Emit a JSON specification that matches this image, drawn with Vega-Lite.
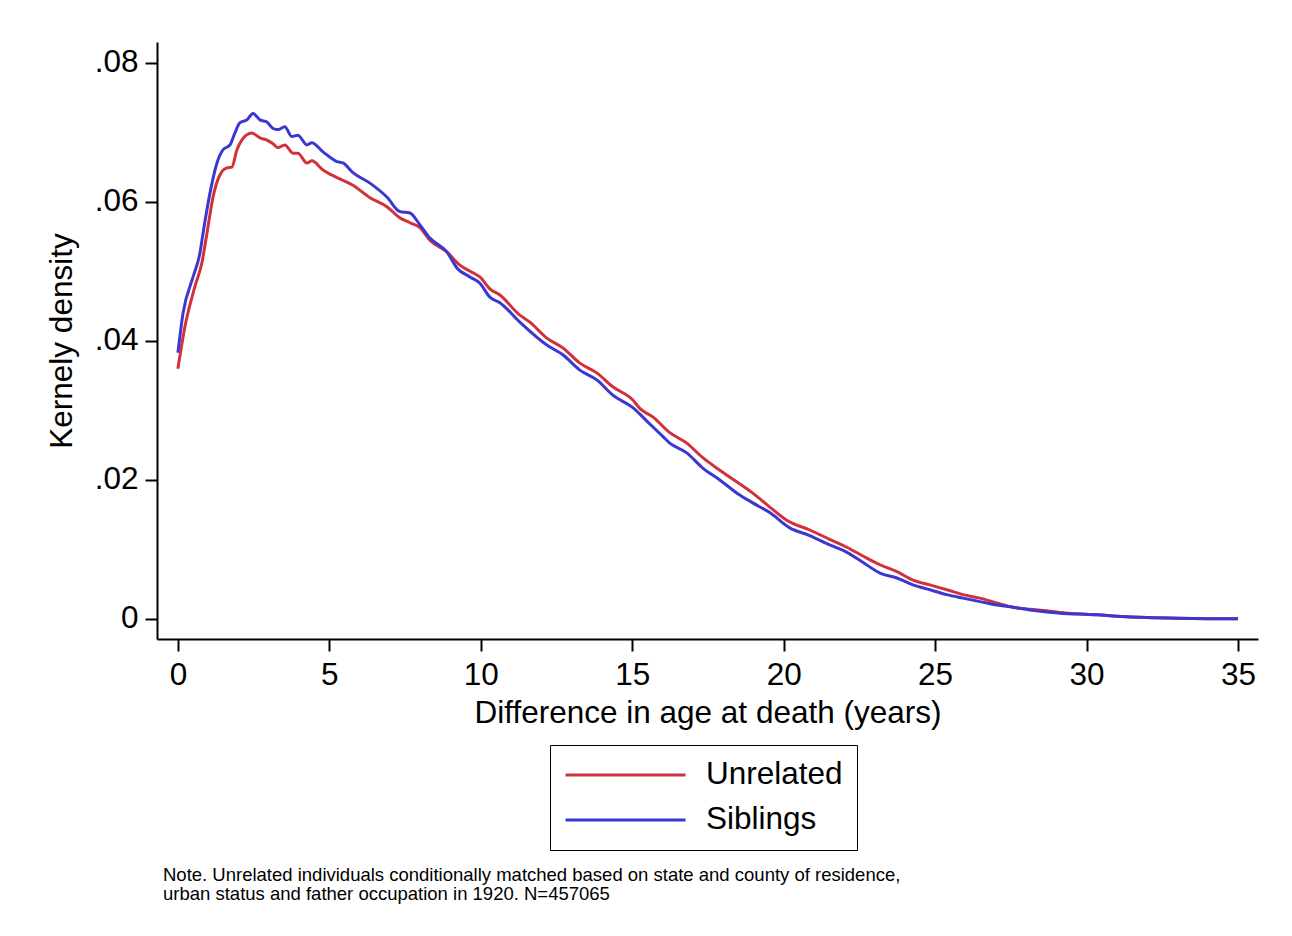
{
  "$schema": "https://vega.github.io/schema/vega-lite/v6.json",
  "autosize": "none",
  "width": 1101,
  "height": 597,
  "padding": {"left": 157, "top": 42, "right": 34, "bottom": 297},
  "background": "white",
  "config": {
    "view": {"stroke": null},
    "font": "Liberation Sans",
    "axis": {"labelFont": "Liberation Sans", "titleFont": "Liberation Sans", "labelColor": "black", "titleColor": "black", "titleFontWeight": "normal", "grid": false, "domainColor": "black", "tickColor": "black", "domainWidth": 2, "tickWidth": 2, "tickSize": 12}
  },
  "title": {
    "text": ["Note. Unrelated individuals conditionally matched based on state and county of residence,", "urban status and father occupation in 1920. N=457065"],
    "orient": "bottom",
    "anchor": "start",
    "frame": "group",
    "fontSize": 18.5,
    "fontWeight": "normal",
    "font": "Liberation Sans",
    "color": "black",
    "lineHeight": 19,
    "dx": 6,
    "offset": 15
  },
  "data": {
    "values": [
      {"group": "Unrelated", "x": 0, "y": 0.0360},
      {"group": "Unrelated", "x": 0.23, "y": 0.0420},
      {"group": "Unrelated", "x": 0.56, "y": 0.0478},
      {"group": "Unrelated", "x": 0.79, "y": 0.0512},
      {"group": "Unrelated", "x": 0.96, "y": 0.0555},
      {"group": "Unrelated", "x": 1.16, "y": 0.0607},
      {"group": "Unrelated", "x": 1.39, "y": 0.0639},
      {"group": "Unrelated", "x": 1.62, "y": 0.0649},
      {"group": "Unrelated", "x": 1.78, "y": 0.0650},
      {"group": "Unrelated", "x": 1.95, "y": 0.0675},
      {"group": "Unrelated", "x": 2.11, "y": 0.0689},
      {"group": "Unrelated", "x": 2.44, "y": 0.0699},
      {"group": "Unrelated", "x": 2.71, "y": 0.0692},
      {"group": "Unrelated", "x": 2.94, "y": 0.0689},
      {"group": "Unrelated", "x": 3.13, "y": 0.0684},
      {"group": "Unrelated", "x": 3.3, "y": 0.0678},
      {"group": "Unrelated", "x": 3.53, "y": 0.0682},
      {"group": "Unrelated", "x": 3.8, "y": 0.0670},
      {"group": "Unrelated", "x": 3.96, "y": 0.0670},
      {"group": "Unrelated", "x": 4.26, "y": 0.0656},
      {"group": "Unrelated", "x": 4.42, "y": 0.0659},
      {"group": "Unrelated", "x": 4.79, "y": 0.0646},
      {"group": "Unrelated", "x": 5.25, "y": 0.0635},
      {"group": "Unrelated", "x": 5.78, "y": 0.0624},
      {"group": "Unrelated", "x": 6.34, "y": 0.0606},
      {"group": "Unrelated", "x": 6.9, "y": 0.0593},
      {"group": "Unrelated", "x": 7.33, "y": 0.0577},
      {"group": "Unrelated", "x": 7.66, "y": 0.0570},
      {"group": "Unrelated", "x": 7.99, "y": 0.0563},
      {"group": "Unrelated", "x": 8.32, "y": 0.0545},
      {"group": "Unrelated", "x": 8.88, "y": 0.0528},
      {"group": "Unrelated", "x": 9.31, "y": 0.0509},
      {"group": "Unrelated", "x": 9.74, "y": 0.0498},
      {"group": "Unrelated", "x": 9.97, "y": 0.0492},
      {"group": "Unrelated", "x": 10.3, "y": 0.0475},
      {"group": "Unrelated", "x": 10.63, "y": 0.0466},
      {"group": "Unrelated", "x": 11.29, "y": 0.0437},
      {"group": "Unrelated", "x": 11.62, "y": 0.0427},
      {"group": "Unrelated", "x": 12.18, "y": 0.0404},
      {"group": "Unrelated", "x": 12.71, "y": 0.0390},
      {"group": "Unrelated", "x": 13.27, "y": 0.0368},
      {"group": "Unrelated", "x": 13.83, "y": 0.0354},
      {"group": "Unrelated", "x": 14.36, "y": 0.0334},
      {"group": "Unrelated", "x": 15.02, "y": 0.0315},
      {"group": "Unrelated", "x": 15.25, "y": 0.0303},
      {"group": "Unrelated", "x": 15.7, "y": 0.0290},
      {"group": "Unrelated", "x": 16.24, "y": 0.0268},
      {"group": "Unrelated", "x": 16.8, "y": 0.0253},
      {"group": "Unrelated", "x": 17.33, "y": 0.0232},
      {"group": "Unrelated", "x": 17.89, "y": 0.0214},
      {"group": "Unrelated", "x": 18.46, "y": 0.0197},
      {"group": "Unrelated", "x": 18.98, "y": 0.0181},
      {"group": "Unrelated", "x": 19.54, "y": 0.0161},
      {"group": "Unrelated", "x": 20.1, "y": 0.0142},
      {"group": "Unrelated", "x": 20.86, "y": 0.0128},
      {"group": "Unrelated", "x": 21.5, "y": 0.0115},
      {"group": "Unrelated", "x": 22.0, "y": 0.0105},
      {"group": "Unrelated", "x": 22.6, "y": 0.0091},
      {"group": "Unrelated", "x": 23.18, "y": 0.0078},
      {"group": "Unrelated", "x": 23.74, "y": 0.0068},
      {"group": "Unrelated", "x": 24.27, "y": 0.0056},
      {"group": "Unrelated", "x": 24.83, "y": 0.0049},
      {"group": "Unrelated", "x": 25.39, "y": 0.0042},
      {"group": "Unrelated", "x": 25.92, "y": 0.0035},
      {"group": "Unrelated", "x": 26.48, "y": 0.0030},
      {"group": "Unrelated", "x": 27.04, "y": 0.0023},
      {"group": "Unrelated", "x": 27.57, "y": 0.0017},
      {"group": "Unrelated", "x": 28.13, "y": 0.0014},
      {"group": "Unrelated", "x": 28.69, "y": 0.0012},
      {"group": "Unrelated", "x": 29.22, "y": 0.0009},
      {"group": "Unrelated", "x": 29.78, "y": 0.0007},
      {"group": "Unrelated", "x": 30.34, "y": 0.0006},
      {"group": "Unrelated", "x": 31, "y": 0.0004},
      {"group": "Unrelated", "x": 32, "y": 0.0002},
      {"group": "Unrelated", "x": 33, "y": 0.0001},
      {"group": "Unrelated", "x": 34, "y": 0.00005},
      {"group": "Unrelated", "x": 35, "y": 0.00002},
      {"group": "Siblings", "x": 0, "y": 0.0383},
      {"group": "Siblings", "x": 0.17, "y": 0.0440},
      {"group": "Siblings", "x": 0.5, "y": 0.0492},
      {"group": "Siblings", "x": 0.73, "y": 0.0527},
      {"group": "Siblings", "x": 0.83, "y": 0.0555},
      {"group": "Siblings", "x": 1.06, "y": 0.0613},
      {"group": "Siblings", "x": 1.29, "y": 0.0656},
      {"group": "Siblings", "x": 1.49, "y": 0.0675},
      {"group": "Siblings", "x": 1.72, "y": 0.0682},
      {"group": "Siblings", "x": 1.88, "y": 0.0699},
      {"group": "Siblings", "x": 2.05, "y": 0.0714},
      {"group": "Siblings", "x": 2.28, "y": 0.0718},
      {"group": "Siblings", "x": 2.48, "y": 0.0727},
      {"group": "Siblings", "x": 2.71, "y": 0.0718},
      {"group": "Siblings", "x": 2.94, "y": 0.0715},
      {"group": "Siblings", "x": 3.13, "y": 0.0706},
      {"group": "Siblings", "x": 3.3, "y": 0.0704},
      {"group": "Siblings", "x": 3.53, "y": 0.0708},
      {"group": "Siblings", "x": 3.76, "y": 0.0694},
      {"group": "Siblings", "x": 3.96, "y": 0.0696},
      {"group": "Siblings", "x": 4.26, "y": 0.0682},
      {"group": "Siblings", "x": 4.42, "y": 0.0685},
      {"group": "Siblings", "x": 4.79, "y": 0.0672},
      {"group": "Siblings", "x": 5.25, "y": 0.0658},
      {"group": "Siblings", "x": 5.45, "y": 0.0656},
      {"group": "Siblings", "x": 5.78, "y": 0.0642},
      {"group": "Siblings", "x": 6.34, "y": 0.0627},
      {"group": "Siblings", "x": 6.9, "y": 0.0607},
      {"group": "Siblings", "x": 7.33, "y": 0.0586},
      {"group": "Siblings", "x": 7.66, "y": 0.0584},
      {"group": "Siblings", "x": 7.99, "y": 0.0567},
      {"group": "Siblings", "x": 8.32, "y": 0.0548},
      {"group": "Siblings", "x": 8.88, "y": 0.0528},
      {"group": "Siblings", "x": 9.21, "y": 0.0505},
      {"group": "Siblings", "x": 9.64, "y": 0.0492},
      {"group": "Siblings", "x": 9.97, "y": 0.0483},
      {"group": "Siblings", "x": 10.3, "y": 0.0463},
      {"group": "Siblings", "x": 10.63, "y": 0.0455},
      {"group": "Siblings", "x": 11.29, "y": 0.0427},
      {"group": "Siblings", "x": 12.18, "y": 0.0394},
      {"group": "Siblings", "x": 12.71, "y": 0.0380},
      {"group": "Siblings", "x": 13.27, "y": 0.0358},
      {"group": "Siblings", "x": 13.83, "y": 0.0344},
      {"group": "Siblings", "x": 14.36, "y": 0.0322},
      {"group": "Siblings", "x": 15.02, "y": 0.0304},
      {"group": "Siblings", "x": 15.5, "y": 0.0284},
      {"group": "Siblings", "x": 16.0, "y": 0.0263},
      {"group": "Siblings", "x": 16.24, "y": 0.0253},
      {"group": "Siblings", "x": 16.8, "y": 0.0239},
      {"group": "Siblings", "x": 17.33, "y": 0.0217},
      {"group": "Siblings", "x": 17.89, "y": 0.0200},
      {"group": "Siblings", "x": 18.46, "y": 0.0181},
      {"group": "Siblings", "x": 18.98, "y": 0.0167},
      {"group": "Siblings", "x": 19.54, "y": 0.0153},
      {"group": "Siblings", "x": 20.2, "y": 0.0131},
      {"group": "Siblings", "x": 20.86, "y": 0.0120},
      {"group": "Siblings", "x": 21.5, "y": 0.0107},
      {"group": "Siblings", "x": 22.0, "y": 0.0098},
      {"group": "Siblings", "x": 22.6, "y": 0.0082},
      {"group": "Siblings", "x": 23.18, "y": 0.0066},
      {"group": "Siblings", "x": 23.74, "y": 0.0059},
      {"group": "Siblings", "x": 24.27, "y": 0.0049},
      {"group": "Siblings", "x": 24.83, "y": 0.0042},
      {"group": "Siblings", "x": 25.39, "y": 0.0035},
      {"group": "Siblings", "x": 25.92, "y": 0.0030},
      {"group": "Siblings", "x": 26.48, "y": 0.0025},
      {"group": "Siblings", "x": 27.04, "y": 0.0020},
      {"group": "Siblings", "x": 27.57, "y": 0.0017},
      {"group": "Siblings", "x": 28.13, "y": 0.0013},
      {"group": "Siblings", "x": 28.69, "y": 0.0010},
      {"group": "Siblings", "x": 29.22, "y": 0.0008},
      {"group": "Siblings", "x": 29.78, "y": 0.0007},
      {"group": "Siblings", "x": 30.34, "y": 0.0006},
      {"group": "Siblings", "x": 31, "y": 0.0004},
      {"group": "Siblings", "x": 32, "y": 0.0002},
      {"group": "Siblings", "x": 33, "y": 0.0001},
      {"group": "Siblings", "x": 34, "y": 0.00005},
      {"group": "Siblings", "x": 35, "y": 0.00002}
    ]
  },
  "mark": {"type": "line", "strokeWidth": 3, "clip": true, "interpolate": "monotone"},
  "encoding": {
    "x": {
      "field": "x",
      "type": "quantitative",
      "scale": {"domain": [-0.69, 35.66], "nice": false, "zero": false},
      "axis": {"values": [0, 5, 10, 15, 20, 25, 30, 35], "format": "d", "labelFontSize": 31.5, "labelPadding": 8, "title": "Difference in age at death (years)", "titleFontSize": 31.5, "titlePadding": 7}
    },
    "y": {
      "field": "y",
      "type": "quantitative",
      "scale": {"domain": [-0.00288, 0.083], "nice": false, "zero": false},
      "axis": {"values": [0, 0.02, 0.04, 0.06, 0.08], "labelExpr": "datum.value == 0 ? '0' : substring(format(datum.value, '.2f'), 1)", "labelFontSize": 31.5, "labelPadding": 7, "title": "Kernely density", "titleFontSize": 31.5, "titlePadding": 16}
    },
    "color": {
      "field": "group",
      "type": "nominal",
      "sort": ["Unrelated", "Siblings"],
      "scale": {"domain": ["Unrelated", "Siblings"], "range": ["#d2303a", "#3b38d2"]},
      "legend": {
        "title": null,
        "orient": "none",
        "legendX": 393,
        "legendY": 703,
        "direction": "vertical",
        "symbolType": "stroke",
        "symbolSize": 14400,
        "symbolStrokeWidth": 3,
        "clipHeight": 32,
        "labelFontSize": 31.5,
        "labelFont": "Liberation Sans",
        "labelColor": "black",
        "labelOffset": 19,
        "padding": 14,
        "rowPadding": 13,
        "strokeColor": "black"
      }
    }
  }
}
